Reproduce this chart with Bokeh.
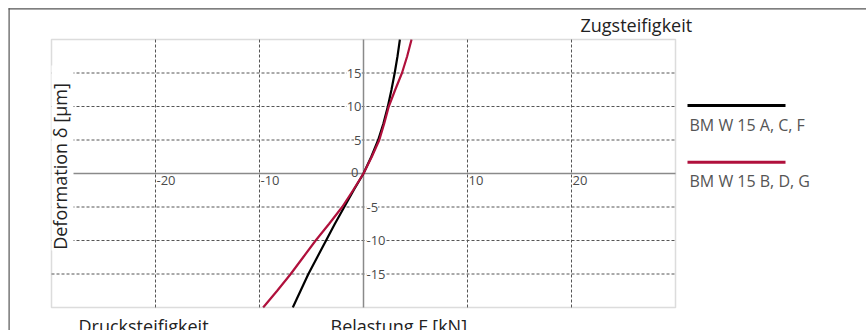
from bokeh.plotting import figure
from bokeh.models import Range1d, Label, LabelSet, ColumnDataSource, BoxAnnotation
from bokeh.core.properties import value
from bokeh.embed import file_html
from bokeh.resources import INLINE
import math

# ---- data ----
black_F = [-6.8, -6.05, -5.3, -4.45, -3.6, -2.75, -1.85, -0.95, 0.0, 0.75, 1.41, 1.92, 2.34, 2.69, 3.0, 3.27, 3.5]
black_d = [-20, -17.5, -15, -12.5, -10, -7.5, -5, -2.5, 0, 2.5, 5, 7.5, 10, 12.5, 15, 17.5, 20]
red_F = [-9.65, -8.3, -7.0, -5.8, -4.6, -3.3, -2.05, -1.0, 0.0, 0.8, 1.52, 2.0, 2.43, 3.05, 3.7, 4.2, 4.62]
red_d = [-20, -17.5, -15, -12.5, -10, -7.5, -5, -2.5, 0, 2.5, 5, 7.5, 10, 12.5, 15, 17.5, 20]
series_names = ["BM W 15 A, C, F", "BM W 15 B, D, G"]
series_colors = ["#000000", "#b0103c"]
x_ticks = [-20, -10, 10, 20]
y_ticks_pos = [5, 10, 15]
y_ticks_neg = [-5, -10, -15]
X_MIN, X_MAX = -30, 30
Y_MIN, Y_MAX = -20, 20

FONT = "Open Sans"
TICK_COLOR = "#4a4a4a"
GRID_COLOR = "#555555"
AXIS_COLOR = "#8a8a8a"

# ---- layout: canvas = frame; plot box placed by pixel margins ----
W, H = 866, 330
box_left, box_right, box_top, box_bottom = 51, 675, 39, 307   # pixels inside the canvas
sx = (box_right - box_left) / (X_MAX - X_MIN)
sy = (box_bottom - box_top) / (Y_MAX - Y_MIN)
x_range = Range1d(X_MIN - box_left / sx, X_MAX + (W - box_right) / sx)
y_range = Range1d(Y_MIN - (H - box_bottom) / sy, Y_MAX + box_top / sy)

p = figure(width=W, height=H, output_backend="svg", toolbar_location=None,
           x_range=x_range, y_range=y_range,
           x_axis_location=None, y_axis_location=None,
           min_border=0, min_border_left=0, min_border_right=0,
           min_border_top=0, min_border_bottom=0)
p.outline_line_color = None
p.background_fill_color = "white"
p.border_fill_color = "white"
p.xgrid.grid_line_color = None
p.ygrid.grid_line_color = None

SCR = dict(left_units="screen", right_units="screen", bottom_units="screen", top_units="screen")

# outer border (top and left edges visible in the window)
p.add_layout(BoxAnnotation(left=8, right=9.2, bottom=0, top=322.2,
                           fill_color="#555555", fill_alpha=1, line_color=None, **SCR))
p.add_layout(BoxAnnotation(left=8, right=W, bottom=321, top=322.2,
                           fill_color="#555555", fill_alpha=1, line_color=None, **SCR))

# dashed grid lines inside the plot box
p.segment(x0=x_ticks, y0=[Y_MIN] * len(x_ticks), x1=x_ticks, y1=[Y_MAX] * len(x_ticks),
          line_color=GRID_COLOR, line_dash="3 2", line_width=1)
yt = y_ticks_pos + y_ticks_neg
p.segment(x0=[X_MIN] * len(yt), y0=yt, x1=[X_MAX] * len(yt), y1=yt,
          line_color=GRID_COLOR, line_dash="3 2", line_width=1)
# zero axes
p.segment(x0=[0, X_MIN], y0=[Y_MIN, 0], x1=[0, X_MAX], y1=[Y_MAX, 0],
          line_color=AXIS_COLOR, line_width=1.5)

# curves
p.line(black_F, black_d, line_color=series_colors[0], line_width=2.2)
p.line(red_F, red_d, line_color=series_colors[1], line_width=2.2)

# plot box outline
p.add_layout(BoxAnnotation(left=X_MIN, right=X_MAX, bottom=Y_MIN, top=Y_MAX,
                           fill_color=None, fill_alpha=0, line_color=AXIS_COLOR, line_width=1.5))

# tick labels
src_pos = ColumnDataSource(dict(x=[0] * len(y_ticks_pos), y=y_ticks_pos, t=[str(v) for v in y_ticks_pos]))
src_neg = ColumnDataSource(dict(x=[0] * len(y_ticks_neg), y=y_ticks_neg, t=[str(v) for v in y_ticks_neg]))
src_zero = ColumnDataSource(dict(x=[0], y=[0], t=["0"]))
src_x = ColumnDataSource(dict(x=x_ticks, y=[0] * len(x_ticks), t=[str(v) for v in x_ticks]))

common = dict(text_font=value(FONT), text_font_size="13px", text_color=TICK_COLOR)
p.add_layout(LabelSet(x="x", y="y", text="t", source=src_pos, text_align="right",
                      text_baseline="middle", x_offset=-2, background_fill_color="white", **common))
p.add_layout(LabelSet(x="x", y="y", text="t", source=src_neg, text_align="left",
                      text_baseline="middle", x_offset=3, background_fill_color="white", **common))
p.add_layout(LabelSet(x="x", y="y", text="t", source=src_zero, text_align="right",
                      text_baseline="middle", x_offset=-5, y_offset=1, **common))
p.add_layout(LabelSet(x="x", y="y", text="t", source=src_x, text_align="left",
                      text_baseline="top", x_offset=1, y_offset=-2, **common))

# y-axis title with white backing
p.add_layout(BoxAnnotation(left=51, right=73, bottom=80, top=265,
                           fill_color="white", fill_alpha=1, line_color=None, **SCR))
lab = dict(text_font=FONT, text_font_size="18px", text_color="#222222",
           x_units="screen", y_units="screen")
p.add_layout(Label(x=59, y=164, text="Deformation δ [µm]", angle=math.pi / 2,
                   text_align="center", text_baseline="middle", **lab))

big = dict(lab, text_font_size="18px")
p.add_layout(Label(x=580, y=306, text="Zugsteifigkeit", text_baseline="middle", **big))
p.add_layout(Label(x=78, y=5, text="Drucksteifigkeit", text_baseline="alphabetic", **big))
p.add_layout(Label(x=330, y=5, text="Belastung F [kN]", text_baseline="alphabetic", **big))

# legend
leg_y = [225, 168.3]
txt_y = [206, 150]
for name, col, ly, ty in zip(series_names, series_colors, leg_y, txt_y):
    p.add_layout(BoxAnnotation(left=687, right=785, bottom=ly - 1.5, top=ly + 1.5,
                               fill_color=col, fill_alpha=1, line_color=None, **SCR))
    p.add_layout(Label(x=689, y=ty, text=name, text_baseline="middle",
                       text_font=FONT, text_font_size="16px", text_color="#555555",
                       x_units="screen", y_units="screen"))

open("out.html", "w").write(file_html(p, INLINE))
